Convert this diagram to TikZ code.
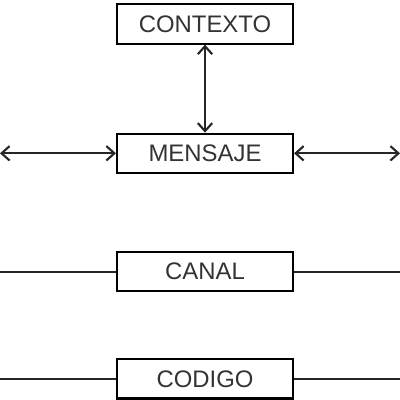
\documentclass[tikz,border=0pt]{standalone}
\usepackage{fontspec}
\setmainfont{Liberation Sans}
\usetikzlibrary{arrows.meta}
\usetikzlibrary{positioning}

\begin{document}
\begin{tikzpicture}[block/.style={draw,rectangle,line width=1.5pt,minimum width=4.4cm,minimum height=0.98cm,inner sep=0pt,font=\fontsize{17}{20}\selectfont,text=black!80},
		link/.style={line width=1.5pt,draw=black!85},
		both/.style={{Straight Barb[length=0.2cm,width=0.36cm]}-{Straight Barb[length=0.2cm,width=0.36cm]}}]
		\useasboundingbox (0,0) rectangle (10,10);
		\node [block] (contexto) at (5.125,9.4) {CONTEXTO};
		\node [block,below=2.2cm of contexto] (mensaje) {MENSAJE};
		\node [block,below=1.925cm of mensaje] (canal) {CANAL};
		\node [block,below=1.65cm of canal] (codigo) {CODIGO};

		\coordinate (mensajeleft) at (0,0 |- mensaje);
		\coordinate (mensajeright) at (10,0 |- mensaje);
		\coordinate (canalleft) at (0,0 |- canal);
		\coordinate (canalright) at (10,0 |- canal);
		\coordinate (codigoleft) at (0,0 |- codigo);
		\coordinate (codigoright) at (10,0 |- codigo);

		\draw [link,both] (contexto) -- (mensaje);
		\draw [link,both] (mensajeleft) -- (mensaje);
		\draw [link,both] (mensaje) -- (mensajeright);
		\draw [link] (canalleft) -- (canal);
		\draw [link] (canal) -- (canalright);
		\draw [link] (codigoleft) -- (codigo);
		\draw [link] (codigo) -- (codigoright);
	\end{tikzpicture}
\end{document}
